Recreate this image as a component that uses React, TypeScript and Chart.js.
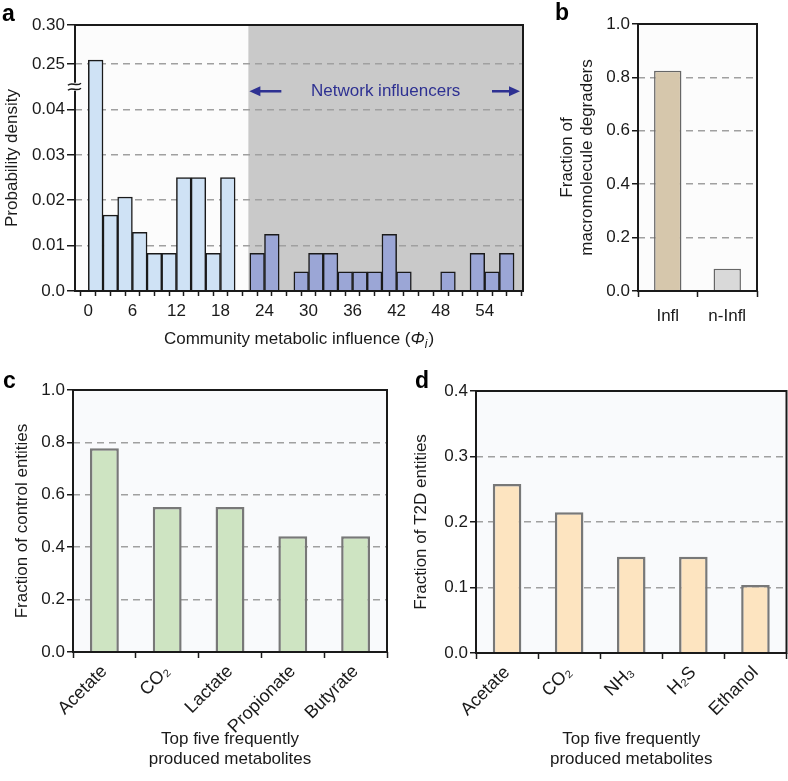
import { useEffect, useRef } from "react";
import { Chart, registerables } from "chart.js";

Chart.register(...registerables);

const FONT = "'Liberation Sans', Arial, Helvetica, sans-serif";
const INK = "#1a1a1a";
const GRID = "#a0a0a0";
const NAVY = "#2e3192";

// ---------- Panel a: histogram of community metabolic influence ----------
const binStarts = [0, 2, 4, 6, 8, 10, 12, 14, 16, 18, 20, 22, 24, 26, 28, 30, 32, 34, 36, 38, 40, 42, 44, 46, 48, 50, 52, 54, 56];
const binWidth = 2;
const densityValues = [0.255, 0.0167, 0.0207, 0.0129, 0.0083, 0.0083, 0.025, 0.025, 0.0083, 0.025, 0, 0.0083, 0.0125, 0, 0.0042, 0.0083, 0.0083, 0.0042, 0.0042, 0.0042, 0.0125, 0.0042, 0, 0, 0.0042, 0, 0.0083, 0.0042, 0.0083];
const influencerStart = 21.8;
const xLabelValuesA = [0, 6, 12, 18, 24, 30, 36, 42, 48, 54];
const xRangeA = [-0.8, 58.2];
const yTickValuesA = [0, 0.01, 0.02, 0.03, 0.04, 0.25, 0.3];
const yTickLabelsA = ["0.0", "0.01", "0.02", "0.03", "0.04", "0.25", "0.30"];
const influencerLabel = "Network influencers";

// broken y axis
const breakLow = 0.045;
const breakHigh = 0.25;
const breakHighPos = 0.05;
const upperCompression = 0.172;
const toBroken = (v: number) =>
  v <= breakLow
    ? v
    : v < breakHigh
    ? breakLow + ((v - breakLow) / (breakHigh - breakLow)) * (breakHighPos - breakLow)
    : breakHighPos + (v - breakHigh) * upperCompression;

// ---------- Panel b ----------
const groupsB = ["Infl", "n-Infl"];
const degraderFractions = [0.825, 0.083];
const yTicksB = [0, 0.2, 0.4, 0.6, 0.8, 1.0];

// ---------- Panel c ----------
const metabolitesC = ["Acetate", "CO\u2082", "Lactate", "Propionate", "Butyrate"];
const controlFractions = [0.778, 0.553, 0.553, 0.442, 0.442];
const yTicksC = [0, 0.2, 0.4, 0.6, 0.8, 1.0];

// ---------- Panel d ----------
const metabolitesD = ["Acetate", "CO\u2082", "NH\u2083", "H\u2082S", "Ethanol"];
const t2dFractions = [0.258, 0.215, 0.147, 0.147, 0.104];
const yTicksD = [0, 0.1, 0.2, 0.3, 0.4];

const xTitleCD = ["Top five frequently", "produced metabolites"];

const hideEnds = (n: number) => (ctx: any) =>
  ctx.index === 0 || ctx.index === n - 1 ? "rgba(0,0,0,0)" : GRID;

function framePlugin(bg: string) {
  return {
    id: "frame",
    beforeDraw(chart: any) {
      const { ctx, chartArea: a } = chart;
      ctx.save();
      ctx.fillStyle = bg;
      ctx.fillRect(a.left, a.top, a.right - a.left, a.bottom - a.top);
      ctx.restore();
    },
    afterDatasetsDraw(chart: any) {
      const { ctx, chartArea: a } = chart;
      ctx.save();
      ctx.strokeStyle = INK;
      ctx.lineWidth = 2;
      ctx.strokeRect(a.left, a.top, a.right - a.left, a.bottom - a.top);
      ctx.restore();
    },
  };
}

function panelLabel(text: string, x: number, y: number) {
  return {
    id: "panelLabel" + text,
    afterDraw(chart: any) {
      const ctx = chart.ctx;
      ctx.save();
      ctx.font = `bold 23px ${FONT}`;
      ctx.fillStyle = "#000";
      ctx.textAlign = "left";
      ctx.textBaseline = "alphabetic";
      ctx.fillText(text, x, y);
      ctx.restore();
    },
  };
}

function fractionY(ticks: number[], width: number, title: string | string[], titlePad: number) {
  return {
    type: "linear",
    min: ticks[0],
    max: ticks[ticks.length - 1],
    afterBuildTicks: (s: any) => {
      s.ticks = ticks.map((v) => ({ value: v }));
    },
    afterFit: (s: any) => {
      s.width = width;
    },
    ticks: {
      callback: (v: number) => Number(v).toFixed(1),
      font: { family: FONT, size: 17 },
      color: INK,
      padding: 2,
    },
    grid: {
      color: hideEnds(ticks.length),
      lineWidth: 1.5,
      tickColor: INK,
      tickWidth: 1.5,
      tickLength: 6,
    },
    border: { display: false, dash: [7, 5] },
    title: {
      display: true,
      text: title,
      font: { family: FONT, size: 17 },
      color: INK,
      padding: { top: titlePad, bottom: 0 },
    },
  };
}

function categoryX(height: number, rotate: boolean, title?: string[]) {
  return {
    type: "category",
    offset: true,
    afterFit: (s: any) => {
      s.height = height;
    },
    grid: {
      offset: true,
      drawOnChartArea: false,
      tickColor: INK,
      tickWidth: 1.5,
      tickLength: 6,
    },
    border: { display: false },
    ticks: {
      autoSkip: false,
      minRotation: rotate ? 45 : 0,
      maxRotation: rotate ? 45 : 0,
      font: { family: FONT, size: rotate ? 18 : 17 },
      color: INK,
      padding: rotate ? 3 : 9,
    },
    title: title
      ? {
          display: true,
          text: title,
          font: { family: FONT, size: 17 },
          color: INK,
          padding: { top: 0, bottom: 11 },
        }
      : { display: false },
  };
}

function drawArrow(ctx: CanvasRenderingContext2D, tail: number, head: number, y: number) {
  const dir = head > tail ? 1 : -1;
  ctx.beginPath();
  ctx.moveTo(tail, y);
  ctx.lineTo(head - dir * 8, y);
  ctx.stroke();
  ctx.beginPath();
  ctx.moveTo(head, y);
  ctx.lineTo(head - dir * 11, y - 5);
  ctx.lineTo(head - dir * 11, y + 5);
  ctx.closePath();
  ctx.fill();
}

export default function App() {
  const refA = useRef<HTMLCanvasElement>(null);
  const refB = useRef<HTMLCanvasElement>(null);
  const refC = useRef<HTMLCanvasElement>(null);
  const refD = useRef<HTMLCanvasElement>(null);

  useEffect(() => {
    Chart.defaults.font.family = FONT;
    Chart.defaults.font.size = 17;
    Chart.defaults.color = INK;
    const charts: Chart[] = [];
    const commonOpts = {
      responsive: false,
      animation: false,
      devicePixelRatio: 1,
      events: [],
      plugins: { legend: { display: false }, tooltip: { enabled: false }, title: { display: false } },
    };

    // ----- Panel a -----
    const xTicksA = [...binStarts, binStarts[binStarts.length - 1] + binWidth];
    const influencerPlugin = {
      id: "influencers",
      beforeDraw(chart: any) {
        const { ctx, chartArea: a, scales } = chart;
        const xs = scales.x.getPixelForValue(influencerStart);
        ctx.save();
        ctx.fillStyle = "#fcfcfc";
        ctx.fillRect(a.left, a.top, xs - a.left, a.bottom - a.top);
        ctx.fillStyle = "#c9c9c9";
        ctx.fillRect(xs, a.top, a.right - xs, a.bottom - a.top);
        ctx.restore();
      },
      afterDatasetsDraw(chart: any) {
        const { ctx, chartArea: a, scales } = chart;
        const xs = scales.x.getPixelForValue(influencerStart);
        const y = scales.y.getPixelForValue(0.044);
        ctx.save();
        ctx.fillStyle = NAVY;
        ctx.strokeStyle = NAVY;
        ctx.lineWidth = 2.5;
        ctx.font = `17px ${FONT}`;
        ctx.textAlign = "center";
        ctx.textBaseline = "middle";
        ctx.fillText(influencerLabel, (xs + a.right) / 2, y);
        drawArrow(ctx, xs + 33, xs + 1, y);
        drawArrow(ctx, a.right - 31, a.right - 3, y);
        ctx.strokeStyle = INK;
        ctx.lineWidth = 2;
        ctx.strokeRect(a.left, a.top, a.right - a.left, a.bottom - a.top);
        ctx.restore();
      },
      afterDraw(chart: any) {
        const { ctx, chartArea: a, scales } = chart;
        // axis break symbol
        const yb = scales.y.getPixelForValue(breakLow);
        ctx.save();
        ctx.fillStyle = "#ffffff";
        ctx.fillRect(a.left - 3, yb - 4, 6, 8);
        ctx.strokeStyle = INK;
        ctx.lineWidth = 1.5;
        for (const dy of [-2.5, 2.5]) {
          ctx.beginPath();
          ctx.moveTo(a.left - 7, yb + dy + 1);
          ctx.bezierCurveTo(a.left - 3, yb + dy - 3, a.left + 1, yb + dy + 3, a.left + 6, yb + dy - 1);
          ctx.stroke();
        }
        // x axis title with italic Phi and subscript i
        const parts = [
          { t: "Community metabolic influence (", f: `17px ${FONT}`, dy: 0 },
          { t: "\u03A6", f: `italic 17px ${FONT}`, dy: 0 },
          { t: "i", f: `italic 12px ${FONT}`, dy: 4 },
          { t: ")", f: `17px ${FONT}`, dy: 0 },
        ];
        let total = 0;
        const widths = parts.map((p) => {
          ctx.font = p.f;
          const w = ctx.measureText(p.t).width + (p.t === "i" ? 1 : 0);
          total += w;
          return w;
        });
        let x = (a.left + a.right) / 2 - total / 2;
        const base = 344;
        ctx.fillStyle = INK;
        ctx.textAlign = "left";
        ctx.textBaseline = "alphabetic";
        parts.forEach((p, i) => {
          ctx.font = p.f;
          ctx.fillText(p.t, x, base + p.dy);
          x += widths[i];
        });
        ctx.restore();
      },
    };

    charts.push(
      new Chart(refA.current!, {
        type: "bar",
        data: {
          datasets: [
            {
              data: binStarts.map((s, i) => ({ x: s + binWidth / 2, y: toBroken(densityValues[i]) })),
              backgroundColor: binStarts.map((s) => (s + binWidth / 2 < influencerStart ? "#cfe2f5" : "#9ba6d6")),
              borderColor: INK,
              borderWidth: 1.5,
              categoryPercentage: 1,
              barPercentage: 1,
            },
          ],
        },
        options: {
          ...commonOpts,
          layout: { padding: { top: 25, right: 7, left: 0, bottom: 0 } },
          scales: {
            x: {
              type: "linear",
              min: xRangeA[0],
              max: xRangeA[1],
              afterBuildTicks: (s: any) => {
                s.ticks = xTicksA.map((v) => ({ value: v }));
              },
              afterFit: (s: any) => {
                s.height = 59;
              },
              ticks: {
                autoSkip: false,
                maxRotation: 0,
                callback: (v: number) => (xLabelValuesA.includes(v) ? String(v) : ""),
                font: { family: FONT, size: 17 },
                color: INK,
                padding: 5,
              },
              grid: { drawOnChartArea: false, tickColor: INK, tickWidth: 1.5, tickLength: 5 },
              border: { display: false },
            },
            y: {
              type: "linear",
              min: 0,
              max: toBroken(yTickValuesA[yTickValuesA.length - 1]),
              afterBuildTicks: (s: any) => {
                s.ticks = yTickValuesA.map((v) => ({ value: toBroken(v) }));
              },
              afterFit: (s: any) => {
                s.width = 75;
              },
              ticks: {
                callback: (_v: number, i: number) => yTickLabelsA[i],
                font: { family: FONT, size: 17 },
                color: INK,
                padding: 2,
              },
              grid: {
                color: hideEnds(yTickValuesA.length),
                lineWidth: 1.5,
                tickColor: INK,
                tickWidth: 1.5,
                tickLength: 8,
              },
              border: { display: false, dash: [7, 5] },
              title: {
                display: true,
                text: "Probability density",
                font: { family: FONT, size: 17 },
                color: INK,
                padding: { top: 2, bottom: 0 },
              },
            },
          },
        } as any,
        plugins: [influencerPlugin, panelLabel("a", 2, 21)],
      } as any)
    );

    // ----- Panel b -----
    charts.push(
      new Chart(refB.current!, {
        type: "bar",
        data: {
          labels: groupsB,
          datasets: [
            {
              data: degraderFractions,
              backgroundColor: ["#d6c7ac", "#d9d9d9"],
              borderColor: "#666666",
              borderWidth: 1.5,
              categoryPercentage: 1,
              barPercentage: 0.46,
            },
          ],
        },
        options: {
          ...commonOpts,
          layout: { padding: { top: 24, right: 31, left: 0, bottom: 0 } },
          scales: {
            x: categoryX(39, false),
            y: fractionY(yTicksB, 98, ["Fraction of", "macromolecule degraders"], 17),
          },
        } as any,
        plugins: [framePlugin("#fcfcfc"), panelLabel("b", 15, 20)],
      } as any)
    );

    // ----- Panel c -----
    charts.push(
      new Chart(refC.current!, {
        type: "bar",
        data: {
          labels: metabolitesC,
          datasets: [
            {
              data: controlFractions,
              backgroundColor: "#cee4c2",
              borderColor: "#787878",
              borderWidth: 2.5,
              categoryPercentage: 1,
              barPercentage: 0.46,
            },
          ],
        },
        options: {
          ...commonOpts,
          layout: { padding: { top: 30, right: 13, left: 0, bottom: 0 } },
          scales: {
            x: categoryX(129, true, xTitleCD),
            y: fractionY(yTicksC, 73, "Fraction of control entities", 12),
          },
        } as any,
        plugins: [framePlugin("#f9fafc"), panelLabel("c", 3, 28)],
      } as any)
    );

    // ----- Panel d -----
    charts.push(
      new Chart(refD.current!, {
        type: "bar",
        data: {
          labels: metabolitesD,
          datasets: [
            {
              data: t2dFractions,
              backgroundColor: "#fde4c0",
              borderColor: "#787878",
              borderWidth: 2.5,
              categoryPercentage: 1,
              barPercentage: 0.46,
            },
          ],
        },
        options: {
          ...commonOpts,
          layout: { padding: { top: 31, right: 1.5, left: 0, bottom: 0 } },
          scales: {
            x: categoryX(128, true, xTitleCD),
            y: fractionY(yTicksD, 76, "Fraction of T2D entities", 11),
          },
        } as any,
        plugins: [framePlugin("#f9fafc"), panelLabel("d", 15, 28)],
      } as any)
    );

    return () => {
      charts.forEach((c) => c.destroy());
    };
  }, []);

  return (
    <div
      style={{
        position: "absolute",
        left: 0,
        top: 0,
        width: 788,
        height: 781,
        background: "#ffffff",
        overflow: "hidden",
      }}
    >
      <canvas ref={refA} width={530} height={350} style={{ position: "absolute", left: 0, top: 0 }} />
      <canvas ref={refB} width={248} height={330} style={{ position: "absolute", left: 540, top: 0 }} />
      <canvas ref={refC} width={400} height={421} style={{ position: "absolute", left: 0, top: 360 }} />
      <canvas ref={refD} width={388} height={421} style={{ position: "absolute", left: 400, top: 360 }} />
    </div>
  );
}
